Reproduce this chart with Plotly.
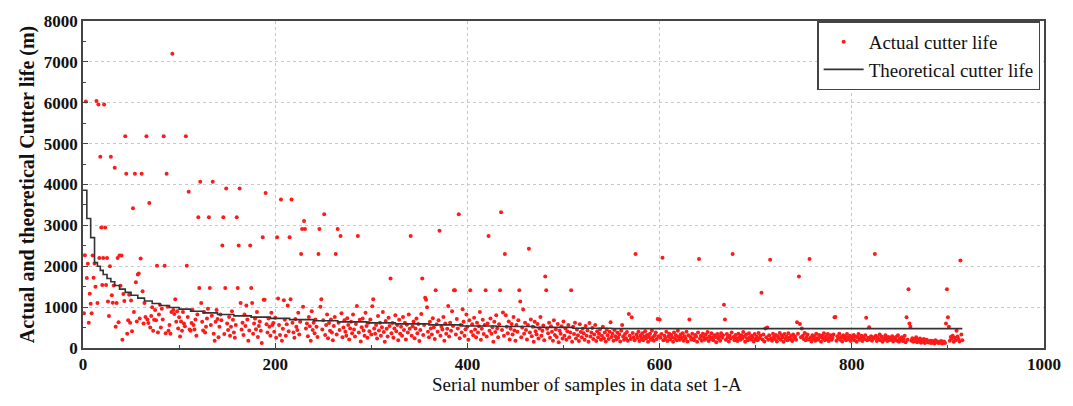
import plotly.graph_objects as go

# Actual cutter life, sample numbers 1..N
actual_life = [
    850, 2270, 6030, 1710, 2060, 620, 1330, 1080, 850, 2260, 1720, 2070, 1500, 6040, 1100, 5960, 2200, 4680, 2950, 1540,
    2200, 5960, 2950, 1540, 2200, 1140, 780, 2000, 4680, 1290, 1110, 1530, 4410, 520, 1100, 2200, 630, 2260, 1520, 2260,
    200, 1320, 1150, 5180, 4260, 350, 680, 1300, 620, 1160, 410, 3420, 880, 4260, 1610, 650, 1800, 1820, 720, 2190,
    4260, 1390, 600, 1100, 760, 5180, 700, 610, 3550, 500, 780, 1000, 420, 690, 930, 680, 2010, 380, 820, 1060,
    500, 960, 700, 5180, 2010, 360, 4260, 1010, 420, 560, 350, 880, 7200, 930, 830, 1190, 640, 900, 480, 750,
    280, 650, 420, 880, 600, 530, 5180, 2010, 760, 3820, 450, 420, 610, 930, 560, 450, 700, 300, 820, 3200,
    1470, 4070, 1100, 640, 430, 880, 380, 520, 720, 960, 3200, 1470, 560, 790, 4070, 350, 180, 640, 930, 710,
    260, 520, 820, 680, 2510, 3200, 340, 1470, 3900, 600, 440, 760, 300, 520, 900, 690, 380, 250, 560, 3200,
    1470, 2510, 3900, 1100, 450, 620, 320, 820, 540, 1040, 700, 180, 430, 2510, 1470, 1100, 350, 600, 720, 460,
    880, 270, 540, 650, 420, 120, 2710, 1180, 1180, 3790, 580, 380, 720, 520, 300, 860, 560, 610, 400, 740,
    250, 2710, 1210, 560, 320, 3630, 180, 470, 1170, 690, 300, 580, 1040, 410, 2710, 1190, 3630, 620, 380, 250,
    710, 520, 440, 860, 330, 640, 2300, 2910, 1010, 3110, 2910, 480, 600, 290, 760, 530, 180, 900, 440, 620,
    360, 700, 520, 270, 2300, 2910, 1010, 1190, 450, 680, 3270, 320, 560, 820, 240, 610, 420, 700, 380, 190,
    540, 760, 2300, 330, 2910, 620, 440, 2740, 850, 260, 500, 680, 400, 300, 730, 560, 210, 480, 640, 360,
    820, 450, 280, 590, 1030, 2740, 380, 690, 160, 510, 720, 430, 300, 860, 540, 250, 620, 410, 700, 330,
    1020, 1190, 480, 350, 560, 230, 780, 430, 620, 300, 510, 880, 390, 150, 660, 470, 280, 740, 540, 1700,
    360, 610, 250, 480, 800, 410, 560, 190, 690, 350, 520, 300, 760, 440, 620, 210, 570, 380, 820, 470,
    2740, 300, 530, 650, 240, 480, 720, 360, 590, 170, 440, 830, 1700, 320, 560, 1230, 1180, 1000, 400, 260,
    640, 480, 330, 730, 510, 220, 1410, 580, 400, 680, 2870, 300, 520, 450, 760, 180, 600, 350, 470, 1030,
    280, 620, 420, 900, 540, 1410, 1410, 330, 710, 480, 3270, 240, 560, 380, 950, 640, 300, 460, 820, 520,
    200, 680, 1410, 400, 580, 310, 740, 450, 260, 620, 380, 530, 880, 200, 470, 690, 340, 560, 1410, 280,
    600, 2740, 420, 720, 350, 510, 150, 640, 390, 800, 480, 260, 580, 1410, 3320, 440, 870, 300, 2300, 800,
    520, 360, 650, 210, 470, 590, 330, 760, 430, 180, 560, 400, 680, 1410, 1140, 260, 500, 940, 350, 620,
    440, 210, 560, 2430, 380, 700, 290, 520, 150, 640, 410, 330, 590, 230, 480, 760, 300, 420, 550, 190,
    1750, 1410, 470, 360, 620, 250, 530, 400, 180, 680, 320, 460, 270, 590, 140, 420, 350, 530, 230, 650,
    300, 480, 200, 410, 560, 260, 380, 1410, 150, 520, 340, 620, 230, 450, 310, 170, 580, 390, 260, 470,
    360, 200, 540, 300, 430, 150, 610, 280, 380, 490, 220, 330, 560, 170, 410, 260, 350, 460, 200, 300,
    520, 240, 380, 160, 450, 310, 220, 400, 630, 270, 350, 180, 440, 290, 210, 380, 250, 330, 160, 420,
    560, 280, 200, 340, 240, 390, 180, 830, 300, 220, 750, 370, 260, 190, 2300, 330, 250, 400, 170, 300,
    230, 360, 190, 280, 410, 240, 320, 150, 270, 350, 200, 430, 260, 180, 310, 380, 220, 710, 290, 700,
    250, 340, 2210, 190, 300, 230, 400, 170, 280, 350, 210, 320, 260, 150, 380, 240, 310, 190, 420, 270,
    200, 330, 250, 360, 180, 290, 230, 400, 160, 310, 700, 270, 210, 350, 240, 190, 320, 280, 150, 380,
    2180, 230, 300, 180, 350, 260, 200, 330, 240, 390, 170, 290, 220, 360, 250, 190, 310, 270, 140, 340,
    230, 290, 180, 360, 250, 310, 1060, 700, 200, 340, 260, 160, 300, 230, 380, 2300, 270, 190, 320, 240,
    170, 350, 260, 200, 310, 230, 390, 280, 150, 330, 240, 190, 360, 270, 210, 300, 250, 160, 340, 220,
    280, 190, 370, 240, 300, 1350, 210, 330, 160, 480, 260, 500, 200, 310, 2160, 240, 180, 350, 270, 220,
    320, 160, 290, 240, 370, 200, 310, 260, 150, 340, 230, 280, 190, 360, 250, 210, 300, 170, 330, 240,
    280, 200, 630, 350, 1750, 590, 260, 480, 300, 220, 370, 190, 270, 330, 210, 2180, 250, 160, 310, 230,
    290, 180, 350, 240, 200, 320, 270, 150, 300, 230, 360, 190, 280, 220, 340, 170, 260, 310, 200, 250,
    330, 750, 760, 180, 290, 240, 350, 200, 270, 160, 310, 230, 280, 190, 340, 250, 210, 300, 170, 260,
    230, 320, 190, 280, 150, 260, 340, 200, 240, 300, 170, 270, 220, 310, 740, 190, 250, 510, 210, 290,
    180, 260, 230, 2300, 300, 170, 250, 210, 330, 190, 280, 150, 240, 200, 310, 230, 170, 270, 190, 250,
    210, 290, 160, 240, 200, 270, 180, 310, 150, 230, 190, 260, 170, 220, 300, 140, 750, 200, 1440, 600,
    520, 180, 240, 150, 210, 170, 260, 140, 200, 160, 230, 130, 190, 150, 220, 120, 170, 200, 140, 160,
    130, 180, 120, 170, 150, 110, 190, 140, 160, 120, 150, 130, 170, 110, 140, 160, 120, 600, 1440, 750,
    520, 180, 270, 230, 300, 150, 250, 190, 420, 280, 220, 160, 2140, 330, 190,
]
sample_no = list(range(1, len(actual_life) + 1))

# Theoretical cutter life (step curve)
theory_x = [0, 4, 8, 12, 15, 18, 21, 25, 29, 33, 38, 44, 50, 57, 64, 72, 80, 90, 100, 112,
            125, 140, 157, 175, 195, 215, 240, 265, 295, 325, 360, 395, 430, 470, 510, 550, 915]
theory_y = [3860, 3170, 2700, 2090, 2000, 1900, 1800, 1700, 1620, 1530, 1440, 1360, 1290, 1220, 1150, 1090, 1040, 990, 950, 900,
            860, 820, 785, 755, 725, 695, 665, 640, 615, 590, 565, 540, 525, 505, 485, 475, 475]

x_ticks = [0, 200, 400, 600, 800, 1000]
y_ticks = [0, 1000, 2000, 3000, 4000, 5000, 6000, 7000, 8000]
x_title = "Serial number of samples in data set 1-A"
y_title = "Actual and theoretical Cutter life (m)"

FONT = "Times New Roman, Liberation Serif, serif"

fig = go.Figure()
fig.add_trace(go.Scatter(
    x=sample_no, y=actual_life, mode="markers", name="Actual cutter life",
    marker=dict(color="#ff1a1a", size=4, line=dict(width=0)),
))
fig.add_trace(go.Scatter(
    x=theory_x, y=theory_y, mode="lines", name="Theoretical cutter life",
    line=dict(color="#333333", width=1.6, shape="hv"),
))

axis_common = dict(
    showline=True, linecolor="#444444", linewidth=1.6, mirror=True,
    showgrid=True, gridcolor="#c8c8c8", griddash="dot", gridwidth=1,
    ticks="inside", ticklen=5, tickcolor="#444444", tickwidth=1.2,
    zeroline=False,
    tickfont=dict(family=FONT, size=17, color="#111111", weight="bold"),
)

fig.update_xaxes(
    range=[0, 1000], tickvals=x_ticks,
    minor=dict(ticks="inside", ticklen=3, dtick=100, tickcolor="#444444", showgrid=False),
    **axis_common,
)
fig.update_yaxes(
    range=[0, 8000], tickvals=y_ticks,
    minor=dict(ticks="inside", ticklen=3, dtick=500, tickcolor="#444444", showgrid=False),
    title=dict(text=y_title,
               font=dict(family=FONT, size=20, color="#111111", weight="bold"), standoff=4),
    **axis_common,
)

fig.add_annotation(
    text=x_title, xref="paper", yref="paper", x=0.524, y=-0.111,
    xanchor="center", yanchor="middle", showarrow=False,
    font=dict(family=FONT, size=19, color="#111111"),
)

fig.update_layout(
    width=1073, height=406,
    margin=dict(l=83, r=27, t=15, b=58),
    paper_bgcolor="white", plot_bgcolor="white",
    showlegend=True,
    legend=dict(
        x=0.996, y=0.999, xanchor="right", yanchor="top",
        bgcolor="white", bordercolor="#444444", borderwidth=1.5,
        font=dict(family=FONT, size=19, color="#111111"),
        itemwidth=40, tracegroupgap=0,
    ),
)

fig.write_html("out.html")
